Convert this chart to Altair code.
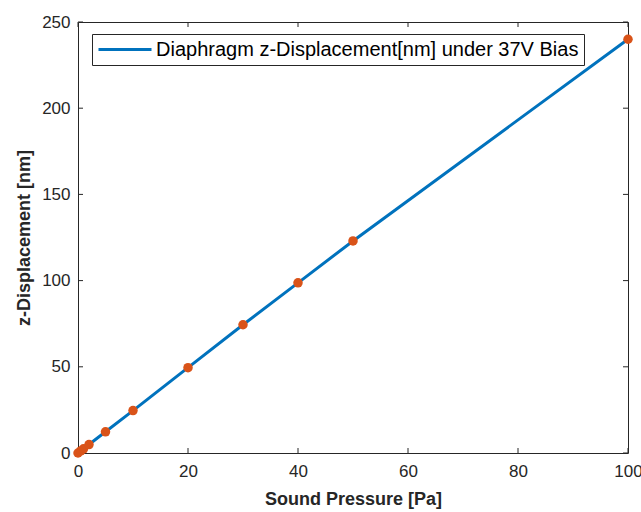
import altair as alt
import pandas as pd

# Data
pressure = [0, 0.5, 1, 2, 5, 10, 20, 30, 40, 50, 100]
displacement = [0, 1.2, 2.4, 4.9, 12.3, 24.6, 49.5, 74.4, 98.7, 123, 240]
series_name = "Diaphragm z-Displacement[nm] under 37V Bias"
x_ticks = [0, 20, 40, 60, 80, 100]
y_ticks = [0, 50, 100, 150, 200, 250]

W, H = 550, 431
TICK = 5
TXT = "#262626"
FONT = "Liberation Sans"

df = pd.DataFrame({"p": pressure, "d": displacement, "series": series_name})
dfx = pd.DataFrame({"t": x_ticks})
dfy = pd.DataFrame({"t": y_ticks})

xscale = alt.Scale(domain=[0, 100], nice=False, zero=False)
yscale = alt.Scale(domain=[0, 250], nice=False, zero=False)

xaxis = alt.Axis(values=x_ticks, title="Sound Pressure [Pa]", grid=False, ticks=False, domain=False,
                 labelPadding=10, titlePadding=11, labelFontSize=17, titleFontSize=18,
                 labelColor=TXT, titleColor=TXT, labelFont=FONT, titleFont=FONT, titleFontWeight="bold",
                 labelFlush=False)
yaxis = alt.Axis(values=y_ticks, title="z-Displacement [nm]", grid=False, ticks=False, domain=False,
                 labelPadding=8, titlePadding=8, labelFontSize=17, titleFontSize=18,
                 labelColor=TXT, titleColor=TXT, labelFont=FONT, titleFont=FONT, titleFontWeight="bold",
                 labelFlush=False)

line = alt.Chart(df).mark_line(strokeWidth=3).encode(
    x=alt.X("p:Q", scale=xscale, axis=xaxis),
    y=alt.Y("d:Q", scale=yscale, axis=yaxis),
    color=alt.Color("series:N", scale=alt.Scale(domain=[series_name], range=["#0072BD"]),
                    legend=alt.Legend(title=None, orient="none", legendX=14, legendY=12,
                                      symbolType="stroke", symbolStrokeWidth=3, symbolSize=2809,
                                      clipHeight=21,
                                      labelFontSize=20, labelFont=FONT, labelColor="#000000",
                                      labelOffset=3, padding=5, strokeColor=TXT, fillColor="white",
                                      cornerRadius=0, labelLimit=600)),
)

points = alt.Chart(df).mark_circle(size=90, opacity=1, color="#D95319").encode(
    x="p:Q", y="d:Q"
)

xt_bottom = alt.Chart(dfx).mark_rule(color=TXT, strokeWidth=1).encode(
    x="t:Q", y=alt.value(H), y2=alt.value(H - TICK))
xt_top = alt.Chart(dfx).mark_rule(color=TXT, strokeWidth=1).encode(
    x="t:Q", y=alt.value(0), y2=alt.value(TICK))
yt_left = alt.Chart(dfy).mark_rule(color=TXT, strokeWidth=1).encode(
    y="t:Q", x=alt.value(0), x2=alt.value(TICK))
yt_right = alt.Chart(dfy).mark_rule(color=TXT, strokeWidth=1).encode(
    y="t:Q", x=alt.value(W - TICK), x2=alt.value(W))

chart = alt.layer(xt_bottom, xt_top, yt_left, yt_right, line, points).properties(
    width=W, height=H,
    autosize=alt.AutoSizeParams(type="none"),
    padding={"left": 78, "top": 22, "right": 13, "bottom": 59},
    background="white",
).configure_view(stroke=TXT, strokeWidth=1)

chart.save("out.html", embed_options={"renderer": "svg", "actions": False})
